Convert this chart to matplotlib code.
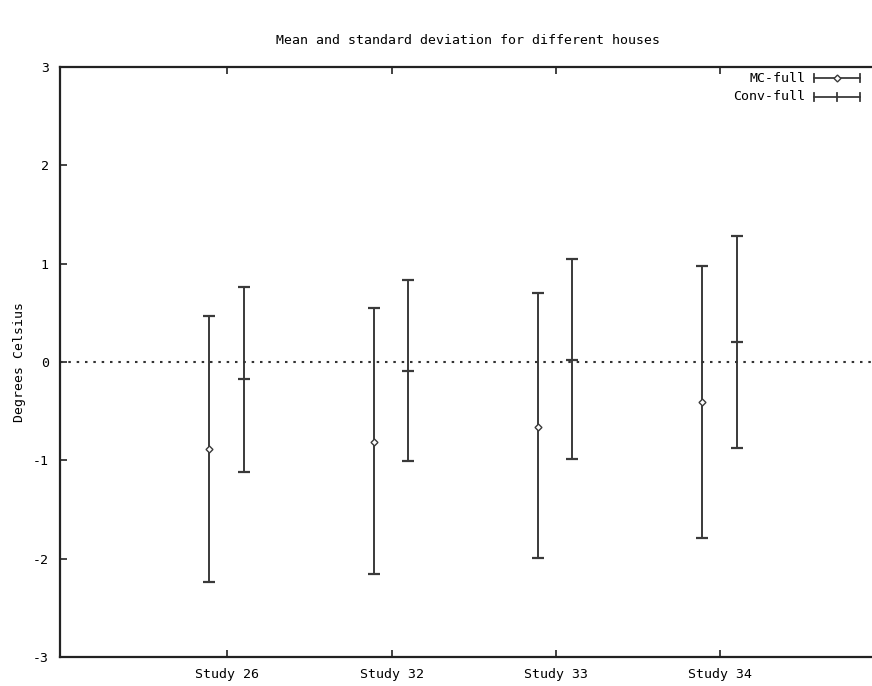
import matplotlib
matplotlib.use("Agg")
import matplotlib.pyplot as plt
from matplotlib.lines import Line2D

studies = ["Study 26", "Study 32", "Study 33", "Study 34"]
mc_mean = [-0.88, -0.81, -0.66, -0.41]
mc_low = [-2.24, -2.16, -1.99, -1.79]
mc_high = [0.47, 0.55, 0.70, 0.98]
conv_mean = [-0.17, -0.09, 0.02, 0.20]
conv_low = [-1.12, -1.01, -0.99, -0.87]
conv_high = [0.76, 0.83, 1.05, 1.28]

plt.rcParams['font.family'] = ['DejaVu Sans Mono']
FS = 9.5
lc = '#3a3a3a'

fig = plt.figure(figsize=(8.72, 6.86), dpi=100)
W, H = 872, 686
ax = fig.add_axes([60 / W, (H - 657) / H, (881 - 60) / W, 590 / H])

xs = list(range(1, len(studies) + 1))
mc_x = [x - 0.11 for x in xs]
cv_x = [x + 0.10 for x in xs]

mc_err = [[m - l for m, l in zip(mc_mean, mc_low)], [h - m for m, h in zip(mc_mean, mc_high)]]
cv_err = [[m - l for m, l in zip(conv_mean, conv_low)], [h - m for m, h in zip(conv_mean, conv_high)]]

ax.errorbar(mc_x, mc_mean, yerr=mc_err, fmt='none',
            ecolor=lc, elinewidth=1.4, capsize=4, capthick=1.6)
ax.plot(mc_x, mc_mean, linestyle='none', marker='D', ms=3.5, mfc='white', mec=lc, mew=1.0)
ax.errorbar(cv_x, conv_mean, yerr=cv_err, fmt='none',
            ecolor=lc, elinewidth=1.4, capsize=4, capthick=1.6)
ax.plot(cv_x, conv_mean, linestyle='none', marker='_', ms=8, mew=1.6, color=lc)

ax.axhline(0, color='#333333', lw=1.5, linestyle=(0, (1.2, 2.8)))

ax.set_xlim(-0.02, 4.98)
ax.set_ylim(-3, 3)
ax.set_xticks(xs)
ax.set_xticklabels(studies, fontsize=FS)
ax.set_yticks([-3, -2, -1, 0, 1, 2, 3])
ax.set_yticklabels(['-3', '-2', '-1', '0', '1', '2', '3'], fontsize=FS)
ax.tick_params(direction='in', length=5, width=1.2, top=True, right=False, color='#222222', pad=8)
for s in ['left', 'bottom', 'top']:
    ax.spines[s].set_linewidth(1.6)
    ax.spines[s].set_color('#222222')
ax.spines['right'].set_visible(False)

ax.set_ylabel('Degrees Celsius', fontsize=FS, labelpad=5)
fig.text(468 / W, 1 - 40 / H, 'Mean and standard deviation for different houses',
         ha='center', va='center', fontsize=FS)

# manual gnuplot-style key
def px(x, y):
    return x / W, 1 - y / H

for label, yy, mid in [('MC-full', 78, 'D'), ('Conv-full', 97, '|')]:
    tx, ty = px(805, yy)
    fig.text(tx, ty, label, ha='right', va='center', fontsize=FS)
    x0, _ = px(814, yy)
    x1, _ = px(860, yy)
    fig.add_artist(Line2D([x0, x1], [ty, ty], color=lc, lw=1.3, transform=fig.transFigure))
    for xe in (x0, x1):
        fig.add_artist(Line2D([xe, xe], [ty - 4 / H, ty + 4 / H], color=lc, lw=1.3, transform=fig.transFigure))
    xm = (x0 + x1) / 2
    if mid == 'D':
        fig.add_artist(Line2D([xm], [ty], marker='D', ms=3.5, mfc='white', mec=lc, mew=1.0,
                              transform=fig.transFigure))
    else:
        fig.add_artist(Line2D([xm, xm], [ty - 4 / H, ty + 4 / H], color=lc, lw=1.3, transform=fig.transFigure))

fig.savefig('out.png', dpi=100)
